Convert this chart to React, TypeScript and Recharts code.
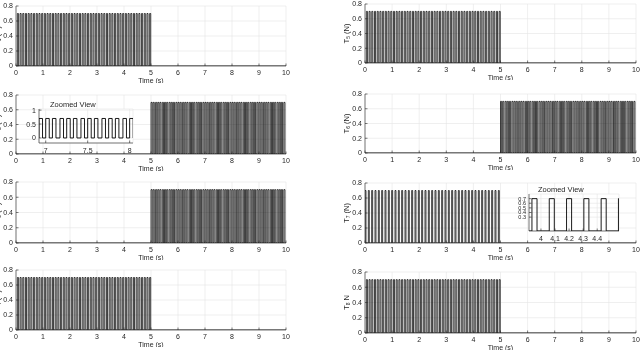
import { CartesianGrid, Line, LineChart, XAxis, YAxis } from "recharts";

const FONT = '"Liberation Sans", Arial, Helvetica, sans-serif';
const INK = "#262626";
const GRID = "#e4e4e4";

const TIME_TICKS = [0, 1, 2, 3, 4, 5, 6, 7, 8, 9, 10];
const FORCE_TICKS = [0, 0.2, 0.4, 0.6, 0.8];
const PULSE_HIGH = 0.7;

// pulse start times (s)
const PULSES_EARLY = [
  0.05, 0.15, 0.25, 0.35, 0.45, 0.55, 0.65, 0.75, 0.85, 0.95,
  1.05, 1.15, 1.25, 1.35, 1.45, 1.55, 1.65, 1.75, 1.85, 1.95,
  2.05, 2.15, 2.25, 2.35, 2.45, 2.55, 2.65, 2.75, 2.85, 2.95,
  3.05, 3.15, 3.25, 3.35, 3.45, 3.55, 3.65, 3.75, 3.85, 3.95,
  4.05, 4.15, 4.25, 4.35, 4.45, 4.55, 4.65, 4.75, 4.85, 4.95,
];
const PULSE_EARLY_WIDTH = 0.04;

const PULSES_LATE = [
  5.0, 5.08, 5.17, 5.25, 5.33, 5.42, 5.5, 5.58, 5.67, 5.75, 5.83, 5.92,
  6.0, 6.08, 6.17, 6.25, 6.33, 6.42, 6.5, 6.58, 6.67, 6.75, 6.83, 6.92,
  7.0, 7.08, 7.17, 7.25, 7.33, 7.42, 7.5, 7.58, 7.67, 7.75, 7.83, 7.92,
  8.0, 8.08, 8.17, 8.25, 8.33, 8.42, 8.5, 8.58, 8.67, 8.75, 8.83, 8.92,
  9.0, 9.08, 9.17, 9.25, 9.33, 9.42, 9.5, 9.58, 9.67, 9.75, 9.83, 9.92,
];
const PULSE_LATE_WIDTH = 0.042;

const PULSES_T7 = [
  0.0, 0.123, 0.246, 0.369, 0.492, 0.615, 0.738, 0.861, 0.984, 1.107,
  1.23, 1.353, 1.476, 1.599, 1.722, 1.845, 1.968, 2.091, 2.214, 2.337,
  2.46, 2.583, 2.706, 2.829, 2.952, 3.075, 3.198, 3.321, 3.444, 3.567,
  3.69, 3.813, 3.936, 4.059, 4.182, 4.305, 4.428, 4.551, 4.674, 4.797,
  4.92,
];
const PULSE_T7_WIDTH = 0.036;

const ZOOM_A_TIME_TICKS = [7, 7.5, 8];
const ZOOM_A_FORCE_TICKS = [0, 0.5, 1];
const ZOOM_B_TIME_TICKS = [4, 4.1, 4.2, 4.3, 4.4];
const ZOOM_B_FORCE_TICKS = [0.3, 0.4, 0.5, 0.6, 0.7];

type Pt = { t: number; v: number };

// rise at each start, fall after the pulse width, zero elsewhere
function pulseTrain(starts: number[], width: number): Pt[] {
  const out: Pt[] = [{ t: 0, v: 0 }];
  starts.forEach((s) => {
    out.push({ t: s, v: PULSE_HIGH });
    out.push({ t: Number((s + width).toFixed(4)), v: 0 });
  });
  out.push({ t: 10, v: 0 });
  return out;
}

const EARLY = pulseTrain(PULSES_EARLY, PULSE_EARLY_WIDTH);
const LATE = pulseTrain(PULSES_LATE, PULSE_LATE_WIDTH);
const T7 = pulseTrain(PULSES_T7, PULSE_T7_WIDTH);

function AxisTitle({ cx, cy, sub, unit }: { cx: number; cy: number; sub: string; unit: string }) {
  return (
    <text
      x={cx}
      y={cy}
      transform={`rotate(-90 ${cx} ${cy})`}
      textAnchor="middle"
      dominantBaseline="central"
      fill={INK}
      fontSize={7.5}
      fontFamily={FONT}
    >
      T<tspan fontSize={5} dy={1.8}>{sub}</tspan>
      <tspan dy={-1.8}>{` ${unit}`}</tspan>
    </text>
  );
}

type PlotProps = {
  box: [number, number, number, number]; // x0, x1, y0, y1 of the plot area on the page
  data: Pt[];
  xDomain: [number, number];
  xTicks: number[];
  yDomain: [number, number];
  yTicks: number[];
  yLabel?: { sub: string; unit: string };
  xLabel?: string;
  inset?: boolean;
  yTickSize?: number;
};

function Plot({ box, data, xDomain, xTicks, yDomain, yTicks, yLabel, xLabel, inset, yTickSize }: PlotProps) {
  const [x0, x1, y0, y1] = box;
  const YW = inset ? 24 : 34;
  const MT = 4;
  const MR = 6;
  const XH = xLabel ? 17 : 12;
  const w = YW + (x1 - x0) + MR;
  const h = MT + (y1 - y0) + XH;
  const tick = { fill: INK, fontSize: 7, fontFamily: FONT };
  const noTick = () => <g />;
  const line = { stroke: INK, strokeWidth: 0.6 };

  return (
    <div style={{ position: "absolute", left: x0 - YW, top: y0 - MT, willChange: "transform" }}>
      <LineChart width={w} height={h} data={data} margin={{ top: MT, right: MR, bottom: 0, left: 0 }}>
        <CartesianGrid stroke={GRID} strokeWidth={0.6} fill={inset ? "#fff" : undefined} fillOpacity={1} />
        <XAxis
          dataKey="t"
          type="number"
          domain={xDomain}
          ticks={xTicks}
          allowDataOverflow
          interval={0}
          height={XH}
          tickSize={-2.5}
          tickMargin={inset ? 8 : 6.5}
          tick={tick}
          tickLine={line}
          axisLine={line}
          label={
            xLabel
              ? { value: xLabel, position: "insideBottom", offset: 0, fill: INK, fontSize: 7, fontFamily: FONT }
              : undefined
          }
        />
        <XAxis
          xAxisId="top"
          orientation="top"
          type="number"
          domain={xDomain}
          ticks={xTicks}
          allowDataOverflow
          interval={0}
          height={0}
          tickSize={-2.5}
          tick={noTick}
          tickLine={line}
          axisLine={line}
        />
        <YAxis
          type="number"
          domain={yDomain}
          ticks={yTicks}
          allowDataOverflow
          interval={0}
          width={YW}
          tickSize={-2.5}
          tickMargin={5.5}
          tick={{ ...tick, fontSize: yTickSize ?? 7 }}
          tickLine={line}
          axisLine={line}
          label={yLabel ? () => <AxisTitle cx={YW - 19} cy={MT + (y1 - y0) / 2} {...yLabel} /> : undefined}
        />
        <YAxis
          yAxisId="right"
          orientation="right"
          type="number"
          domain={yDomain}
          ticks={yTicks}
          allowDataOverflow
          interval={0}
          width={0}
          tickSize={-2.5}
          tick={noTick}
          tickLine={line}
          axisLine={line}
        />
        <Line
          type="stepAfter"
          dataKey="v"
          stroke="#000"
          strokeWidth={inset ? 0.9 : 0.75}
          dot={false}
          activeDot={false}
          isAnimationActive={false}
        />
      </LineChart>
    </div>
  );
}

function ZoomTitle({ left, top }: { left: number; top: number }) {
  return (
    <div
      style={{
        position: "absolute",
        left,
        top,
        fontSize: 7.5,
        lineHeight: 1,
        color: INK,
        fontFamily: FONT,
        whiteSpace: "nowrap",
        willChange: "transform",
      }}
    >
      Zoomed View
    </div>
  );
}

export default function App() {
  const main = {
    xDomain: [0, 10] as [number, number],
    xTicks: TIME_TICKS,
    yDomain: [0, 0.8] as [number, number],
    yTicks: FORCE_TICKS,
    xLabel: "Time (s)",
  };

  return (
    <div
      style={{
        position: "fixed",
        left: 0,
        top: 0,
        width: 640,
        height: 354,
        overflow: "hidden",
        background: "#fff",
        fontFamily: FONT,
      }}
    >
      <Plot {...main} box={[16, 286, 6, 66]} data={EARLY} yLabel={{ sub: "1", unit: "(N)" }} />
      <Plot {...main} box={[16, 286, 95, 154]} data={LATE} yLabel={{ sub: "2", unit: "(N)" }} />
      <Plot {...main} box={[16, 286, 182, 243]} data={LATE} yLabel={{ sub: "3", unit: "(N)" }} />
      <Plot {...main} box={[16, 286, 270, 330]} data={EARLY} yLabel={{ sub: "4", unit: "(N)" }} />

      <Plot {...main} box={[365, 636, 4, 63]} data={EARLY} yLabel={{ sub: "5", unit: "(N)" }} />
      <Plot {...main} box={[365, 636, 94, 153]} data={LATE} yLabel={{ sub: "6", unit: "(N)" }} />
      <Plot {...main} box={[365, 636, 183, 243]} data={T7} yLabel={{ sub: "7", unit: "(N)" }} />
      <Plot {...main} box={[365, 636, 272, 333]} data={EARLY} yLabel={{ sub: "8", unit: "N" }} />

      <Plot
        inset
        box={[39, 133, 109, 143]}
        data={LATE}
        xDomain={[6.92, 8.04]}
        xTicks={ZOOM_A_TIME_TICKS}
        yDomain={[-0.18, 1.04]}
        yTicks={ZOOM_A_FORCE_TICKS}
      />
      <ZoomTitle left={50} top={101} />

      <Plot
        inset
        box={[529, 619, 194, 231]}
        data={T7}
        xDomain={[3.915, 4.555]}
        xTicks={ZOOM_B_TIME_TICKS}
        yDomain={[0, 0.8]}
        yTicks={ZOOM_B_FORCE_TICKS}
        yTickSize={5.5}
      />
      <ZoomTitle left={538} top={186} />
    </div>
  );
}
